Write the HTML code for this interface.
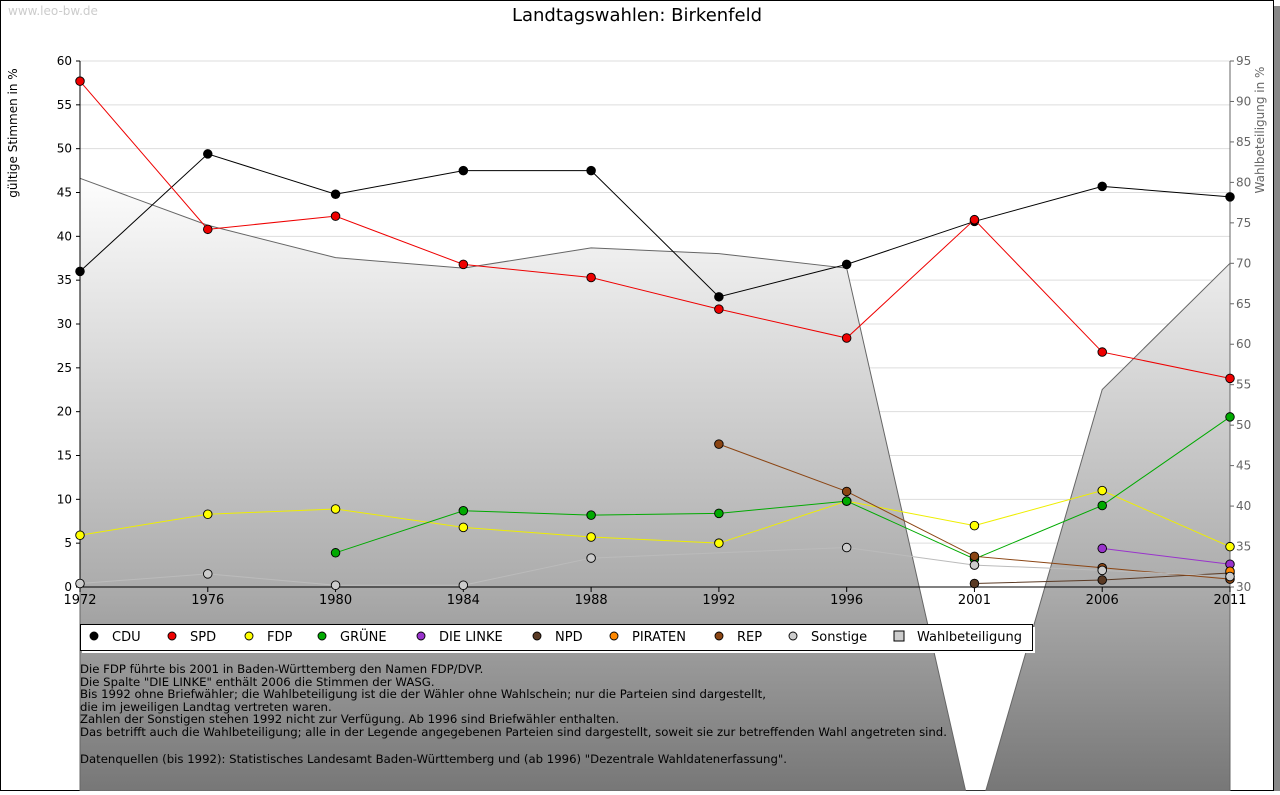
<!DOCTYPE html>
<html><head><meta charset="utf-8"><style>
body{margin:0;width:1280px;height:791px;overflow:hidden;background:#fff;font-family:"DejaVu Sans","Liberation Sans",sans-serif}
svg text{font-family:"DejaVu Sans","Liberation Sans",sans-serif}
</style></head><body>
<svg id="c" width="1280" height="791" xmlns="http://www.w3.org/2000/svg">
<defs>
<linearGradient id="tg" gradientUnits="userSpaceOnUse" x1="0" y1="170" x2="0" y2="791">
<stop offset="0" stop-color="#ffffff"/><stop offset="0.67" stop-color="#acacac"/><stop offset="1" stop-color="#777777"/>
</linearGradient>
<clipPath id="clip"><rect x="0" y="0" width="1274" height="791"/></clipPath>
</defs>
<rect x="6" y="6" width="1274" height="791" fill="#888"/>
<rect x="0.5" y="0.5" width="1273" height="790" fill="#fff" stroke="#000"/>
<text x="8" y="15" font-size="12" fill="#ccc">www.leo-bw.de</text>
<text x="637" y="21" font-size="18" text-anchor="middle" fill="#000">Landtagswahlen: Birkenfeld</text>
<g id="grid"></g>
<g id="turn" clip-path="url(#clip)"></g>
<g id="axes"></g>
<g id="series"></g>
<text transform="translate(17,133) rotate(-90)" font-size="12" text-anchor="middle">gültige Stimmen in %</text>
<text transform="translate(1264,130) rotate(-90)" font-size="12" text-anchor="middle" fill="#666">Wahlbeteiligung in %</text>
<g>
<rect x="82" y="627" width="953" height="26" fill="#fff"/>
<rect x="80.5" y="624.5" width="952" height="26" fill="#fff" stroke="#000"/>
<g id="leg"></g>
</g>
<g font-size="11.7" fill="#000">
<text x="80" y="673">Die FDP führte bis 2001 in Baden-Württemberg den Namen FDP/DVP.</text>
<text x="80" y="686">Die Spalte "DIE LINKE" enthält 2006 die Stimmen der WASG.</text>
<text x="80" y="698">Bis 1992 ohne Briefwähler; die Wahlbeteiligung ist die der Wähler ohne Wahlschein; nur die Parteien sind dargestellt,</text>
<text x="80" y="711">die im jeweiligen Landtag vertreten waren.</text>
<text x="80" y="723">Zahlen der Sonstigen stehen 1992 nicht zur Verfügung. Ab 1996 sind Briefwähler enthalten.</text>
<text x="80" y="736">Das betrifft auch die Wahlbeteiligung; alle in der Legende angegebenen Parteien sind dargestellt, soweit sie zur betreffenden Wahl angetreten sind.</text>
<text x="80" y="763">Datenquellen (bis 1992): Statistisches Landesamt Baden-Württemberg und (ab 1996) "Dezentrale Wahldatenerfassung".</text>
</g>
</svg>
<script>
const years=["1972","1976","1980","1984","1988","1992","1996","2001","2006","2011"];
const turnout=[80.5,74.7,70.7,69.4,71.9,71.2,69.4,0,54.4,70];
const cdu=[36.0,49.4,44.8,47.5,47.5,33.1,36.8,41.7,45.7,44.5];
const spd=[57.7,40.8,42.3,36.8,35.3,31.7,28.4,41.9,26.8,23.8];
const fdp=[5.9,8.3,8.9,6.8,5.7,5.0,9.8,7.0,11.0,4.6];
const gruene=[null,null,3.9,8.7,8.2,8.4,9.8,3.2,9.3,19.4];
const linke=[null,null,null,null,null,null,null,null,4.4,2.6];
const npd=[null,null,null,null,null,null,null,0.4,0.8,1.6];
const piraten=[null,null,null,null,null,null,null,null,null,1.8];
const rep=[null,null,null,null,null,16.3,10.9,3.5,2.2,0.9];
const sonstige=[0.4,1.5,0.2,0.2,3.3,null,4.5,2.5,1.9,1.2];
const leftTicks=[0,5,10,15,20,25,30,35,40,45,50,55,60];
const rightTicks=[30,35,40,45,50,55,60,65,70,75,80,85,90,95];
const NS="http://www.w3.org/2000/svg";
const X0=80,X1=1230,Y0=587,Y1=61;
const xs=i=>X0+(X1-X0)*i/(years.length-1);
const yl=v=>Y0-(Y0-Y1)*v/60;
const yr=v=>Y0-(Y0-Y1)*(v-30)/65;
function mk(t,a,p){const e=document.createElementNS(NS,t);for(const k in a)e.setAttribute(k,a[k]);p.appendChild(e);return e;}
const grid=document.getElementById('grid'),axes=document.getElementById('axes');
leftTicks.forEach(v=>{
 if(v>0){const l=mk('line',{x1:X0,x2:X1,y1:yl(v),y2:yl(v),stroke:'#ddd'},grid);
 
 }
 mk('line',{x1:X0-4,x2:X0,y1:yl(v),y2:yl(v),stroke:'#000'},axes);
 const t=mk('text',{x:X0-8,y:yl(v)+4,'font-size':12,'text-anchor':'end'},axes);t.textContent=v;
 
 
});
rightTicks.forEach(v=>{
 mk('line',{x1:X1,x2:X1+4,y1:yr(v),y2:yr(v),stroke:'#666'},axes);
 const t=mk('text',{x:X1+6,y:yr(v)+4,'font-size':12,fill:'#666'},axes);t.textContent=v;
 
 
});
let d='M'+X0+','+Y0;
turnout.forEach((v,i)=>{d+=' L'+xs(i)+','+yr(v);});
d+=' L'+X1+',791 L'+X0+',791 Z';
const ta=mk('path',{d:d,fill:'url(#tg)',stroke:'#666'},document.getElementById('turn'));


mk('line',{x1:X0,x2:X0,y1:Y1,y2:Y0,stroke:'#000'},axes);
mk('line',{x1:X1,x2:X1,y1:Y1,y2:Y0,stroke:'#666'},axes);
mk('line',{x1:X0,x2:X1,y1:Y0,y2:Y0,stroke:'#000'},axes);
years.forEach((y,i)=>{
 mk('line',{x1:xs(i),x2:xs(i),y1:Y0,y2:Y0+5,stroke:'#000'},axes);
 const t=mk('text',{x:xs(i),y:Y0+17,'font-size':13,'text-anchor':'middle'},axes);t.textContent=y;
 
 
});
const S=[["CDU",cdu,"#000"],["SPD",spd,"#e00"],["FDP",fdp,"#ff0"],["GRÜNE",gruene,"#0a0"],["DIE LINKE",linke,"#93c"],["NPD",npd,"#5a3a24"],["PIRATEN",piraten,"#f80"],["REP",rep,"#8b4513"],["Sonstige",sonstige,"#ccc"]];
const lineCol={"FDP":"#ee0","Sonstige":"#bbb"};
const sg=document.getElementById('series');
S.forEach(([n,arr,c])=>{
 const g=mk('g',{},sg);
 
 
 const pts=[];arr.forEach((v,i)=>{if(v!==null)pts.push([xs(i),yl(v)]);});
 if(pts.length>1)mk('polyline',{points:pts.map(p=>p.join(',')).join(' '),fill:'none',stroke:lineCol[n]||c,'stroke-width':1},g);
 pts.forEach(p=>{
  const m=mk('circle',{cx:p[0],cy:p[1],r:4.3,fill:c,stroke:'#000','stroke-width':0.9},g);
  
  
 });
});
const leg=document.getElementById('leg');
const lx=[94,172,249,322,421,537,614,719,793,899];
S.concat([["Wahlbeteiligung",null,"#ccc"]]).forEach(([n,a,c],i)=>{
 const x=lx[i],y=636;
 if(n==="Wahlbeteiligung"){mk('rect',{x:x-5,y:y-5,width:10,height:10,fill:c,stroke:'#000'},leg);}
 else mk('circle',{cx:x,cy:y,r:4,fill:c,stroke:'#000','stroke-width':0.9},leg);
 const t=mk('text',{x:x+18,y:y+5,'font-size':13},leg);t.textContent=n;
 
 
});
</script>
</body></html>
